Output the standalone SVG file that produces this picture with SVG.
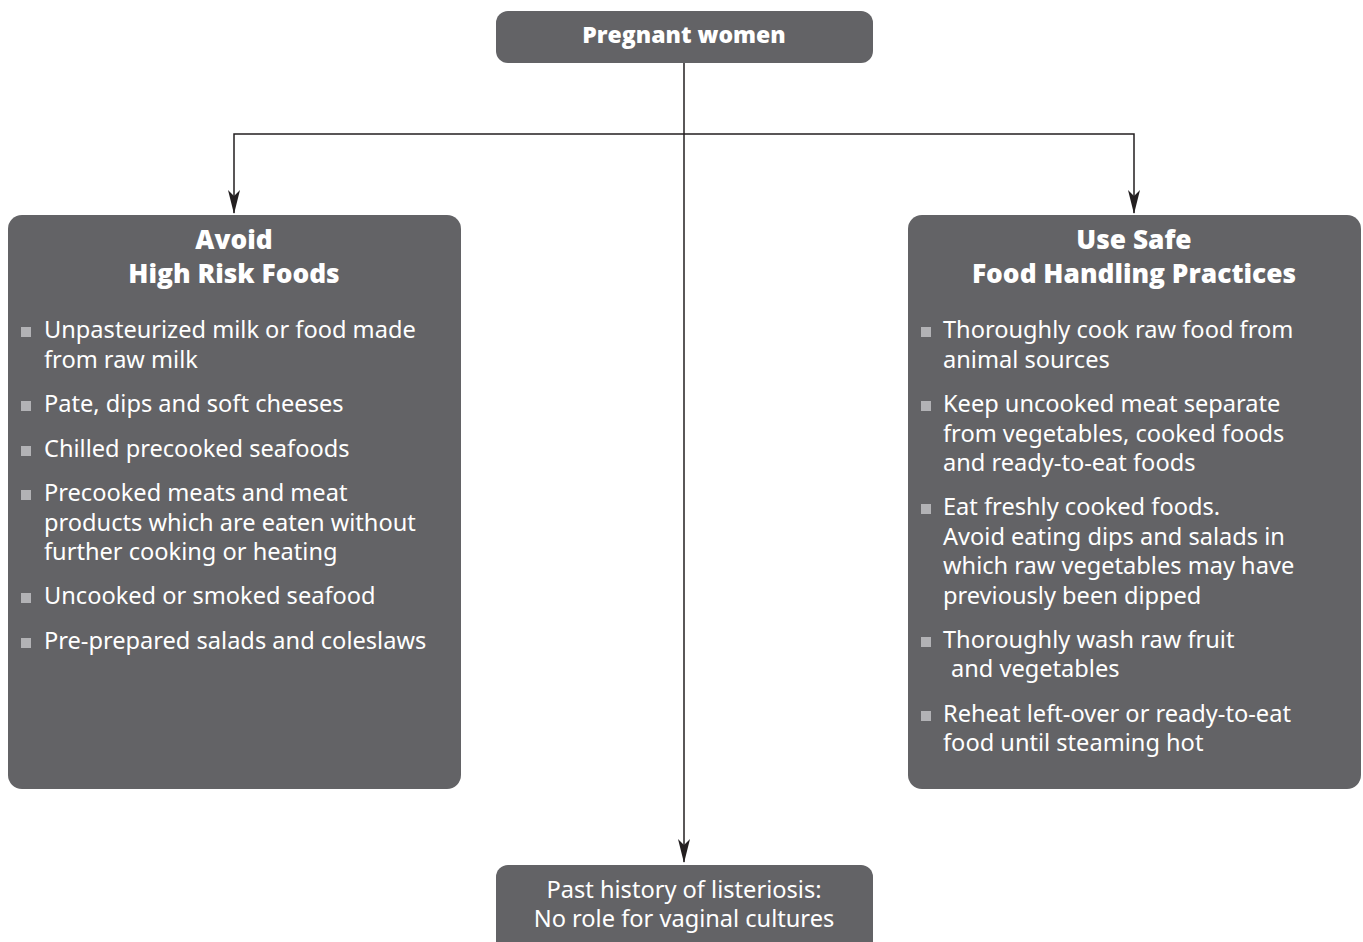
<svg xmlns="http://www.w3.org/2000/svg" width="1363" height="942" viewBox="0 0 1363 942">
  <style>
    .box { fill: #636366; }
    .title { font-family: "Open Sans", "Noto Sans", sans-serif; font-weight: 800; fill: #ffffff; text-anchor: middle; }
    .item { font-family: "Noto Sans", "Open Sans", sans-serif; font-size: 23.6px; fill: #ffffff; }
    .center { text-anchor: middle; }
    .bullet { fill: #b2b2b5; }
    .conn { stroke: #231f20; stroke-width: 1.5; fill: none; }
  </style>
  <defs>
    <marker id="arrow" viewBox="0 0 24 12" refX="23" refY="6" markerWidth="24" markerHeight="12" markerUnits="userSpaceOnUse" orient="auto">
      <path d="M0 0 L24 6 L0 12 L6 6 Z" fill="#231f20"/>
    </marker>
    <rect id="sq" width="10" height="10" class="bullet"/>
  </defs>
  <rect width="1363" height="942" fill="#ffffff"/>

  <g id="connectors">
    <path class="conn" d="M684 63 V862" marker-end="url(#arrow)"/>
    <path class="conn" d="M684 134 H234 V213" marker-end="url(#arrow)"/>
    <path class="conn" d="M684 134 H1134 V213" marker-end="url(#arrow)"/>
  </g>

  <g id="pregnant-women">
    <rect class="box" x="496" y="11" width="377" height="52" rx="12"/>
    <text class="title" x="684" y="43" font-size="23">Pregnant women</text>
  </g>

  <g id="avoid-high-risk-foods">
    <rect class="box" x="8" y="215" width="453" height="574" rx="14"/>
    <text class="title" x="234" y="249" font-size="26.3">Avoid</text>
    <text class="title" x="234" y="283" font-size="26.3">High Risk Foods</text>
    <use href="#sq" x="21" y="327"/>
    <text class="item" x="44" y="338">Unpasteurized milk or food made</text>
    <text class="item" x="44" y="368">from raw milk</text>
    <use href="#sq" x="21" y="401"/>
    <text class="item" x="44" y="412">Pate, dips and soft cheeses</text>
    <use href="#sq" x="21" y="446"/>
    <text class="item" x="44" y="457">Chilled precooked seafoods</text>
    <use href="#sq" x="21" y="490"/>
    <text class="item" x="44" y="501">Precooked meats and meat</text>
    <text class="item" x="44" y="531">products which are eaten without</text>
    <text class="item" x="44" y="560">further cooking or heating</text>
    <use href="#sq" x="21" y="593"/>
    <text class="item" x="44" y="604">Uncooked or smoked seafood</text>
    <use href="#sq" x="21" y="638"/>
    <text class="item" x="44" y="649">Pre-prepared salads and coleslaws</text>
  </g>

  <g id="safe-food-handling">
    <rect class="box" x="908" y="215" width="453" height="574" rx="14"/>
    <text class="title" x="1134" y="249" font-size="26.3">Use Safe</text>
    <text class="title" x="1134" y="283" font-size="26.3">Food Handling Practices</text>
    <use href="#sq" x="921" y="327"/>
    <text class="item" x="943" y="338">Thoroughly cook raw food from</text>
    <text class="item" x="943" y="368">animal sources</text>
    <use href="#sq" x="921" y="401"/>
    <text class="item" x="943" y="412">Keep uncooked meat separate</text>
    <text class="item" x="943" y="442">from vegetables, cooked foods</text>
    <text class="item" x="943" y="471">and ready-to-eat foods</text>
    <use href="#sq" x="921" y="504"/>
    <text class="item" x="943" y="515">Eat freshly cooked foods.</text>
    <text class="item" x="943" y="545">Avoid eating dips and salads in</text>
    <text class="item" x="943" y="574">which raw vegetables may have</text>
    <text class="item" x="943" y="604">previously been dipped</text>
    <use href="#sq" x="921" y="637"/>
    <text class="item" x="943" y="648">Thoroughly wash raw fruit</text>
    <text class="item" x="951" y="677">and vegetables</text>
    <use href="#sq" x="921" y="711"/>
    <text class="item" x="943" y="722">Reheat left-over or ready-to-eat</text>
    <text class="item" x="943" y="751">food until steaming hot</text>
  </g>

  <g id="past-history">
    <rect class="box" x="496" y="865" width="377" height="90" rx="12"/>
    <text class="item center" x="684" y="898">Past history of listeriosis:</text>
    <text class="item center" x="684" y="927">No role for vaginal cultures</text>
  </g>
</svg>
